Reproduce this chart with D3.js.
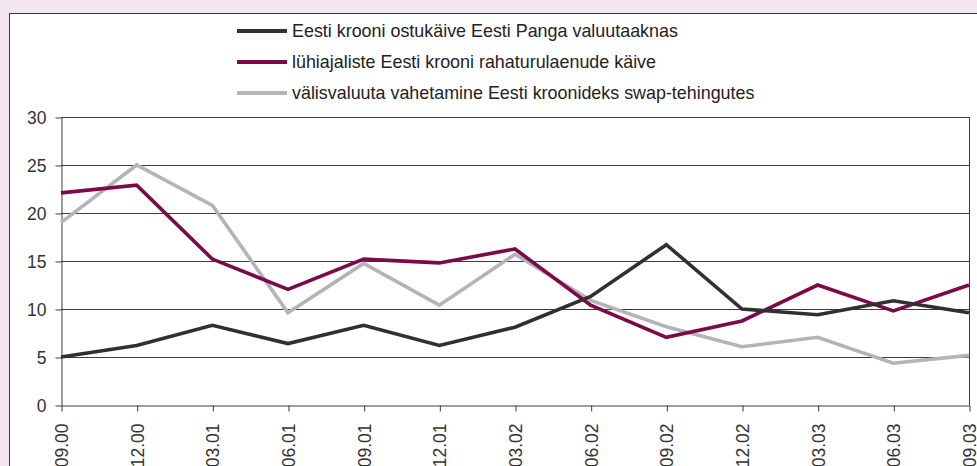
<!DOCTYPE html>
<html>
<head>
<meta charset="utf-8">
<script src="https://cdn.jsdelivr.net/npm/d3@7"></script>
<style>
html,body{margin:0;padding:0;background:#f3e6ee;}
svg{display:block;}
</style>
</head>
<body>
<svg id="chart" width="977" height="466"></svg>
<script>
const categories = ["09.00","12.00","03.01","06.01","09.01","12.01","03.02","06.02","09.02","12.02","03.03","06.03","09.03"];
const seriesNames = [
  "Eesti krooni ostukäive Eesti Panga valuutaaknas",
  "lühiajaliste Eesti krooni rahaturulaenude käive",
  "välisvaluuta vahetamine Eesti kroonideks swap-tehingutes"
];
const ostukaive = [5.0, 6.2, 8.3, 6.4, 8.3, 6.2, 8.1, 11.3, 16.7, 10.0, 9.4, 10.85, 9.6];
const rahaturulaenud = [22.1, 22.9, 15.2, 12.05, 15.2, 14.8, 16.25, 10.4, 7.05, 8.75, 12.5, 9.8, 12.5];
const swap = [19.0, 25.0, 20.8, 9.6, 14.75, 10.4, 15.7, 10.9, 8.15, 6.07, 7.05, 4.35, 5.17];
const yTicks = [0, 5, 10, 15, 20, 25, 30];
const colors = ["#303030", "#7a0a48", "#b4b4b8"];

(function () {
const svg = d3.select("#chart");
const font = "'Liberation Sans', Arial, sans-serif";
const fs = 17.5;
const legendFs = 17.9;

// white panel with frame
svg.append("rect").attr("x", 9.5).attr("y", 13.5).attr("width", 980).attr("height", 470)
  .attr("fill", "#ffffff").attr("stroke", "#3a3a3a").attr("stroke-width", 1);

const mLeft = 61, mRight = 969, mTop = 117, mBottom = 405;
const x = d3.scalePoint().domain(categories).range([mLeft, mRight]);
const y = d3.scaleLinear().domain([0, 30]).range([mBottom, mTop]);

// gridlines
svg.append("g").selectAll("line").data(yTicks.filter(d => d > 0)).join("line")
  .attr("x1", mLeft).attr("x2", mRight)
  .attr("y1", d => y(d) + 0.5).attr("y2", d => y(d) + 0.5)
  .attr("stroke", "#3c3c3c").attr("stroke-width", 1);
// right border of plot
svg.append("line").attr("x1", mRight + 0.5).attr("x2", mRight + 0.5).attr("y1", mTop).attr("y2", mBottom)
  .attr("stroke", "#3c3c3c").attr("stroke-width", 1);

// y axis
const yAxis = svg.append("g").attr("transform", `translate(${mLeft + 0.5},0.5)`)
  .call(d3.axisLeft(y).tickValues(yTicks).tickSize(6).tickPadding(9).tickSizeOuter(0));
yAxis.select(".domain").attr("stroke", "#3c3c3c");
yAxis.selectAll(".tick line").attr("stroke", "#3c3c3c");
yAxis.selectAll("text").attr("font-family", font).attr("font-size", fs).attr("fill", "#333");

// x axis
const xAxis = svg.append("g").attr("transform", `translate(0.5,${mBottom + 0.5})`)
  .call(d3.axisBottom(x).tickSize(6).tickSizeOuter(0));
xAxis.select(".domain").attr("stroke", "#3c3c3c");
xAxis.selectAll(".tick line").attr("stroke", "#3c3c3c");
xAxis.selectAll("text")
  .attr("font-family", font).attr("font-size", fs).attr("fill", "#333")
  .attr("transform", "rotate(-90)")
  .attr("text-anchor", "end")
  .attr("x", -18).attr("y", 0).attr("dy", "0.35em");

// lines
const allSeries = [ostukaive, rahaturulaenud, swap];
const line = d3.line().x((d, i) => x(categories[i])).y(d => y(d));
[2, 1, 0].forEach(k => {
  svg.append("path").datum(allSeries[k])
    .attr("d", line).attr("fill", "none")
    .attr("stroke", colors[k]).attr("stroke-width", 3.6)
    .attr("stroke-linejoin", "miter");
});

// legend
const legend = svg.append("g");
seriesNames.forEach((name, i) => {
  const ly = 31 + i * 31;
  legend.append("line").attr("x1", 237).attr("x2", 287).attr("y1", ly).attr("y2", ly)
    .attr("stroke", colors[i]).attr("stroke-width", 4);
  legend.append("text").attr("x", 292).attr("y", ly).attr("dy", "0.35em")
    .attr("font-family", font).attr("font-size", legendFs).attr("fill", "#222").text(name);
});
})();
</script>
</body>
</html>
